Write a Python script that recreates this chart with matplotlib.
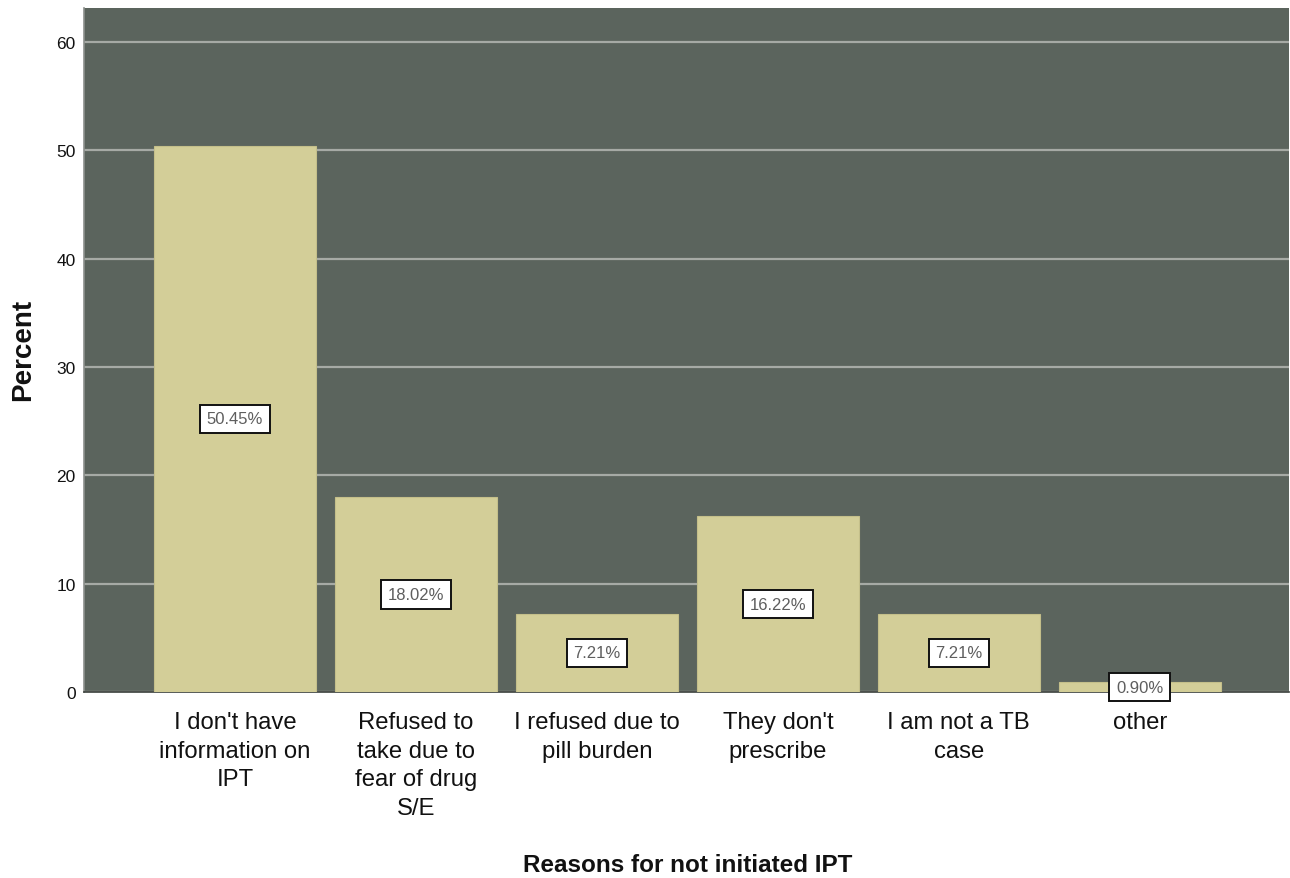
import matplotlib
matplotlib.use("Agg")
import matplotlib.pyplot as plt

categories = [
    "I don't have\ninformation on\nIPT",
    "Refused to\ntake due to\nfear of drug\nS/E",
    "I refused due to\npill burden",
    "They don't\nprescribe",
    "I am not a TB\ncase",
    "other",
]
percents = [50.45, 18.02, 7.21, 16.22, 7.21, 0.90]
yticks = [0, 10, 20, 30, 40, 50, 60]

plt.rcParams["font.family"] = ["Liberation Sans", "DejaVu Sans"]

W, H = 1290, 879
fig = plt.figure(figsize=(W / 100, H / 100), dpi=100)
ax = fig.add_axes([84 / W, 1 - 693 / H, (1289 - 84) / W, (693 - 9) / H])

bg = "#5b645d"
bar_color = "#d3ce98"
ax.set_facecolor(bg)

x = list(range(len(categories)))
ax.bar(x, percents, width=0.895, color=bar_color, edgecolor="#c4bf8a",
       linewidth=0.8, zorder=3)

ax.set_xlim(-0.835, 5.825)
ax.set_ylim(0, 63.15)
ax.set_yticks(yticks)
ax.set_yticklabels([str(t) for t in yticks], fontsize=12.5, color="#111111")
ax.yaxis.grid(True, color="#a6aaa5", linewidth=1.6, zorder=1)
ax.set_axisbelow(True)

ax.set_xticks(x)
ax.set_xticklabels(categories, fontsize=17.2, color="#111111", linespacing=1.38)
ax.tick_params(axis="both", length=0)
ax.tick_params(axis="x", pad=14)
ax.tick_params(axis="y", pad=6)

for side in ["top", "right"]:
    ax.spines[side].set_visible(False)
ax.spines["left"].set_color("#8c908c")
ax.spines["left"].set_linewidth(1.2)
ax.spines["bottom"].set_color("#3a3f3b")
ax.spines["bottom"].set_linewidth(1.2)

for xi, v in zip(x, percents):
    ax.text(xi, v / 2, f"{v:.2f}%", ha="center", va="center", fontsize=12,
            color="#5e5e5e", zorder=5,
            bbox=dict(boxstyle="square,pad=0.4", facecolor="white",
                      edgecolor="#111111", linewidth=1.4))

fig.text(23 / W, 1 - 350 / H, "Percent", rotation=90, ha="center", va="center",
         fontsize=20, fontweight="bold", color="#111111")
fig.text(688 / W, 1 - 866 / H, "Reasons for not initiated IPT", ha="center",
         va="center", fontsize=17.5, fontweight="bold", color="#111111")

fig.savefig("out.png", dpi=100, facecolor="white")
